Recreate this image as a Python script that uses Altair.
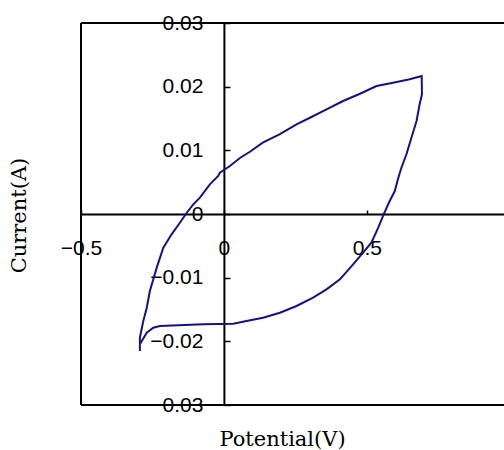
import altair as alt
import pandas as pd

# Cyclic voltammogram (closed loop, in drawing order)
potential = [
    -0.294, -0.294, -0.270, -0.247, -0.224, -0.072, 0.033, 0.079, 0.137, 0.196,
    0.254, 0.312, 0.359, 0.406, 0.452, 0.487, 0.516, 0.540, 0.559, 0.580,
    0.598, 0.609, 0.621, 0.639, 0.656, 0.674, 0.685, 0.693, 0.692,
    0.679, 0.650, 0.592, 0.534, 0.476, 0.417, 0.359, 0.301, 0.254, 0.196,
    0.136, 0.091, 0.056, 0.021, -0.014, -0.020, -0.049, -0.084, -0.107, -0.130,
    -0.154, -0.183, -0.212, -0.235, -0.259, -0.270, -0.282, -0.294, -0.294,
]
current = [
    -0.02152, -0.02047, -0.01864, -0.01786, -0.01759, -0.01732, -0.01723, -0.01681, -0.01629, -0.01550,
    -0.01445, -0.01315, -0.01183, -0.01026, -0.00790, -0.00608, -0.00451, -0.00215, -0.00005, 0.00204,
    0.00361, 0.00550, 0.00727, 0.00942, 0.01198, 0.01461, 0.01728, 0.01880, 0.02167,
    0.02152, 0.02116, 0.02062, 0.02010, 0.01889, 0.01775, 0.01644, 0.01512, 0.01409, 0.01256,
    0.01120, 0.00978, 0.00880, 0.00754, 0.00649, 0.00597, 0.00466, 0.00256, 0.00152, 0.00020,
    -0.00137, -0.00319, -0.00530, -0.00843, -0.01209, -0.01472, -0.01681, -0.01943, -0.02152,
]
x_ticks = [-0.5, 0, 0.5]
y_ticks = [-0.03, -0.02, -0.01, 0, 0.01, 0.02, 0.03]

df = pd.DataFrame({"Potential": potential, "Current": current,
                   "order": list(range(len(potential)))})

XMIN, XMAX = -0.5, 0.98
YMIN, YMAX = -0.03, 0.03
W, H = 423, 382
x0px = (0 - XMIN) / (XMAX - XMIN) * W
y0px = (YMAX - 0) / (YMAX - YMIN) * H

xscale = alt.Scale(domain=[XMIN, XMAX], nice=False, zero=False)
yscale = alt.Scale(domain=[YMIN, YMAX], nice=False, zero=False)

LABEL_FONT = "Liberation Sans"
TITLE_FONT = "DejaVu Serif"

x_axis = alt.Axis(
    orient="top", offset=-y0px, values=x_ticks, format=".1~f",
    grid=False, domainColor="black", domainWidth=2,
    tickColor="black", tickWidth=1.5, tickSize=4,
    labelFont=LABEL_FONT, labelFontSize=21, labelColor="black",
    labelBaseline="middle", labelPadding=-38, labelFlush=False,
    labelOverlap=False, labelBound=False,
    title="Potential(V)", titleFont=TITLE_FONT, titleFontSize=21,
    titleFontWeight="normal", titleColor="black",
    titleX=201, titleY=225, titleAlign="center", titleBaseline="middle",
)
y_axis = alt.Axis(
    orient="right", offset=-(W - x0px), values=y_ticks, format=".2~f",
    grid=False, domainColor="black", domainWidth=2,
    tickColor="black", tickWidth=1.5, tickSize=6,
    labelFont=LABEL_FONT, labelFontSize=21, labelColor="black",
    labelAlign="right", labelBaseline="middle", labelPadding=-27,
    labelFlush=False, labelOverlap=False, labelBound=False,
    title="Current(A)", titleFont=TITLE_FONT, titleFontSize=21,
    titleFontWeight="normal", titleColor="black", titleAngle=270,
    titleX=-204, titleY=192, titleAlign="center", titleBaseline="middle",
)

curve = alt.Chart(df).mark_line(color="#12128c", strokeWidth=2).encode(
    x=alt.X("Potential:Q", scale=xscale, axis=x_axis),
    y=alt.Y("Current:Q", scale=yscale, axis=y_axis),
    order="order:Q",
)

one = alt.Data(values=[{}])
left_border = alt.Chart(one).mark_rule(color="black", strokeWidth=2).encode(
    x=alt.datum(XMIN), y=alt.datum(YMIN), y2=alt.datum(YMAX),
)
top_border = alt.Chart(one).mark_rule(color="black", strokeWidth=2).encode(
    x=alt.datum(XMIN), x2=alt.datum(XMAX), y=alt.datum(YMAX),
)
bottom_border = alt.Chart(one).mark_rule(color="black", strokeWidth=2).encode(
    x=alt.datum(XMIN), x2=alt.datum(XMAX), y=alt.datum(YMIN),
)

chart = alt.layer(curve, left_border, top_border, bottom_border).properties(
    width=W, height=H,
    autosize=alt.AutoSizeParams(type="none"),
    padding={"left": 81, "top": 23, "right": 0, "bottom": 45},
    background="white",
).configure_view(stroke=None)

chart.save("out.html", embed_options={"renderer": "svg", "actions": False})
